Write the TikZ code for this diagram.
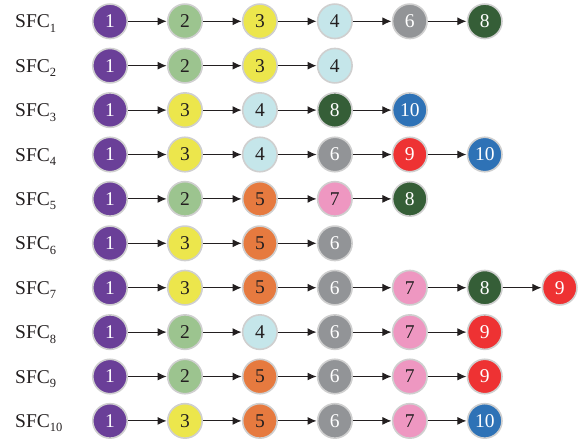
\documentclass[tikz,border=0pt]{standalone}
\usepackage{fontspec}
\setmainfont{Liberation Serif}
\usetikzlibrary{arrows.meta}
\definecolor{ring}{HTML}{CFCFCF}
\definecolor{dk}{HTML}{231F20}
\definecolor{c1}{HTML}{6A3F98}
\definecolor{c2}{HTML}{9CC48F}
\definecolor{c3}{HTML}{ECE64C}
\definecolor{c4}{HTML}{C5E6EA}
\definecolor{c5}{HTML}{E67A3F}
\definecolor{c6}{HTML}{929497}
\definecolor{c7}{HTML}{EE97C1}
\definecolor{c8}{HTML}{355E37}
\definecolor{c9}{HTML}{EE3233}
\definecolor{c10}{HTML}{2E72B6}
\newcommand{\sfclabel}[1]{SFC\raisebox{-4.5pt}{\fontsize{12.5}{12.5}\selectfont #1}}
\tikzset{
  vnf/.style={circle, draw=ring, line width=1.6pt, minimum size=34.5pt, inner sep=0pt,
    font=\fontsize{19.5}{19.5}\selectfont},
  v1/.style={vnf, fill=c1, text=white},
  v2/.style={vnf, fill=c2, text=dk},
  v3/.style={vnf, fill=c3, text=dk},
  v4/.style={vnf, fill=c4, text=dk},
  v5/.style={vnf, fill=c5, text=dk},
  v6/.style={vnf, fill=c6, text=white},
  v7/.style={vnf, fill=c7, text=dk},
  v8/.style={vnf, fill=c8, text=white},
  v9/.style={vnf, fill=c9, text=white},
  v10/.style={vnf, fill=c10, text=white},
  lbl/.style={anchor=base west, inner sep=0pt, text=dk, font=\fontsize{19.5}{19.5}\selectfont},
  arr/.style={draw=dk, line width=1pt, -{Latex[length=9pt,width=8pt]}, shorten >=0.3pt}
}
\begin{document}
\begin{tikzpicture}[x=1pt,y=1pt]
\useasboundingbox (0,0) rectangle (580,-439);
\foreach \row/\lst in {1/{1,2,3,4,6,8},2/{1,2,3,4},3/{1,3,4,8,10},4/{1,3,4,6,9,10},5/{1,2,5,7,8},6/{1,3,5,6},7/{1,3,5,6,7,8,9},8/{1,2,4,6,7,9},9/{1,2,5,6,7,9},10/{1,3,5,6,7,10}} {
  \pgfmathsetmacro\yy{-(21.3+44.4*(\row-1))}
  \node[lbl] (lab\row) at (15,\yy-6.5) {\sfclabel{\row}};
  \foreach \v [count=\i] in \lst {
    \node[v\v] (n\row-\i) at ({110+74.95*(\i-1)},\yy) {\v};
    \ifnum\i>1
      \pgfmathtruncatemacro\prev{\i-1}
      \draw[arr] (n\row-\prev) -- (n\row-\i);
    \fi
  }
}
\end{tikzpicture}
\end{document}
